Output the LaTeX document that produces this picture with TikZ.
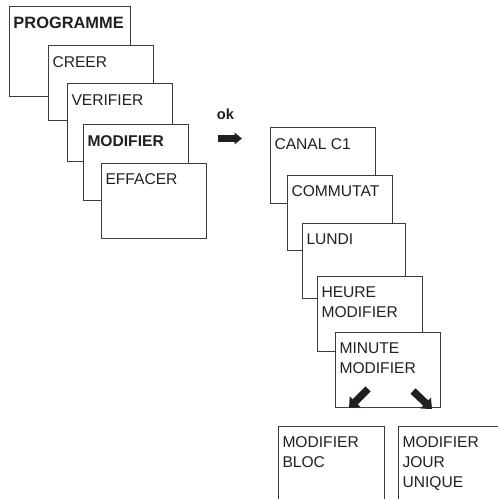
\documentclass[tikz,border=0pt]{standalone}
\usepackage{fontspec}
\setmainfont{Liberation Sans}
\usetikzlibrary{positioning, arrows.meta}

\definecolor{boxline}{HTML}{3C3C3C}
\definecolor{boxink}{HTML}{231F20}

\begin{document}
\begin{tikzpicture}[x=0.75pt, y=-0.75pt, line width=0.75pt,
  menubox/.style={draw=boxline, fill=white, anchor=north west, inner sep=0pt, outer sep=0pt,
    minimum width=78.75pt, minimum height=56.25pt},
  boxtext/.style={anchor=north west, inner sep=0pt, align=left, text=boxink,
    xshift=3pt, yshift=-7.5pt, font=\fontsize{11.7}{15}\selectfont},
  fatarrow/.style={-{Triangle[length=5.5pt, width=8.5pt]}, line width=5pt, draw=boxink},
  slantarrow/.style={-{Triangle[length=6.5pt, width=11pt]}, line width=5.5pt, draw=boxink}]
  \useasboundingbox (0,0) rectangle (498,499);
  \clip (0,0) rectangle (498,499);

  % first menu
  \node[menubox, minimum width=90.75pt, minimum height=67.5pt,
    label={[boxtext, font=\bfseries\fontsize{12.3}{15}\selectfont]north west:PROGRAMME}] (prog) at (9,7) {};
  \node[menubox, label={[boxtext]north west:CREER}] (creer) at (48,46) {};
  \node[menubox, minimum height=57.75pt, label={[boxtext]north west:VERIFIER}] (verif) at (67,84) {};
  \node[menubox, label={[boxtext, font=\bfseries\fontsize{11.7}{15}\selectfont]north west:MODIFIER}] (modif) at (83,125) {};
  \node[menubox, label={[boxtext]north west:EFFACER}] (effac) at (101,163) {};

  % ok
  \node[inner sep=0pt, text=boxink, font=\bfseries\fontsize{11}{13}\selectfont] (ok) at (225.5,114.5) {ok};
  \coordinate (oktail) at (218,138.5);
  \coordinate (okhead) at (242,138.5);
  \draw[fatarrow] (oktail) -- (okhead);

  % second menu
  \node[menubox, label={[boxtext]north west:CANAL C1}] (canal) at (270,128) {};
  \node[menubox, label={[boxtext]north west:COMMUTAT}] (commut) at (287,175) {};
  \node[menubox, minimum width=77.25pt, label={[boxtext]north west:LUNDI}] (lundi) at (302,223) {};
  \node[menubox, label={[boxtext]north west:HEURE\\MODIFIER}] (heure) at (317,276) {};
  \node[menubox, label={[boxtext]north west:MINUTE\\MODIFIER}] (minute) at (335,332) {};

  % choices
  \node[menubox, minimum width=79.5pt, minimum height=90pt, label={[boxtext]north west:MODIFIER\\BLOC}] (bloc) at (278,426) {};
  \node[menubox, minimum height=90pt, label={[boxtext]north west:MODIFIER\\JOUR\\UNIQUE}] (jour) at (398,426) {};

  \coordinate (bloctail) at (368,389);
  \coordinate (blochead) at (349,408);
  \coordinate (jourtail) at (413,391);
  \coordinate (jourhead) at (432,409);
  \draw[slantarrow] (bloctail) -- (blochead);
  \draw[slantarrow] (jourtail) -- (jourhead);
\end{tikzpicture}
\end{document}
